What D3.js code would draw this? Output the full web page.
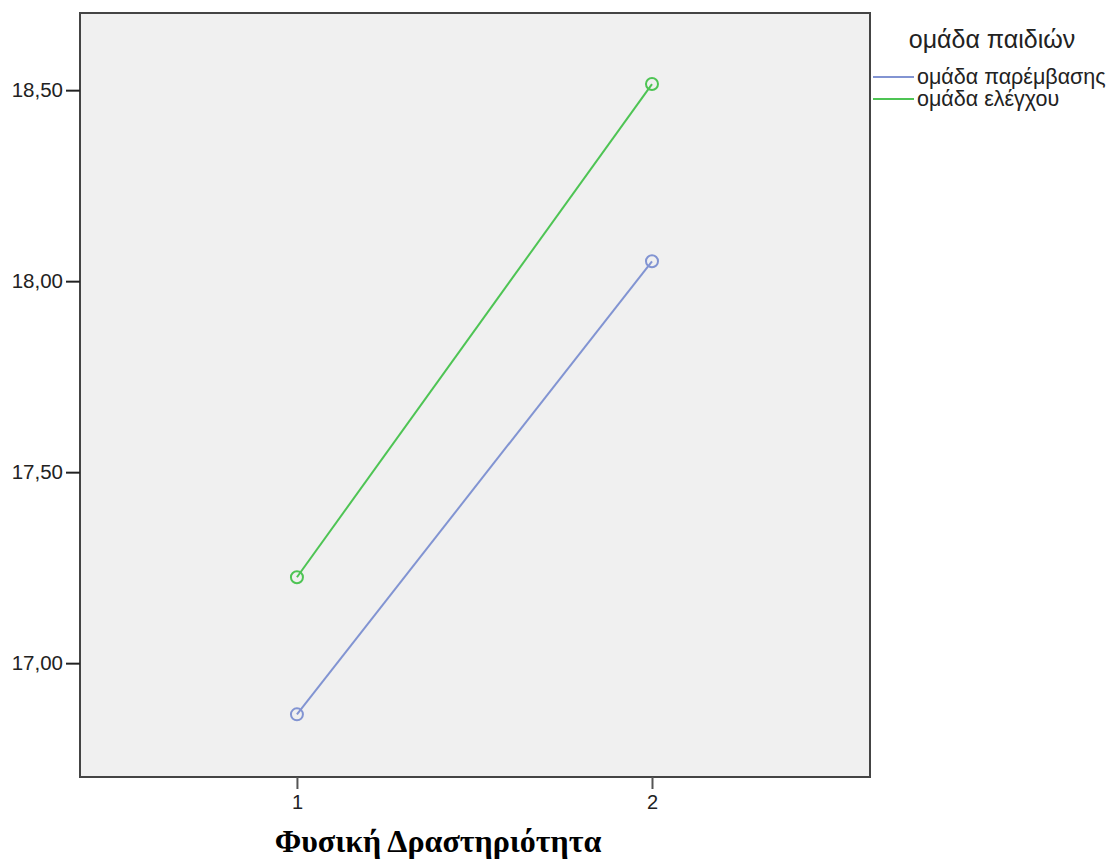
<!DOCTYPE html>
<html>
<head>
<meta charset="utf-8">
<script src="https://cdn.jsdelivr.net/npm/d3@7"></script>
<style>
  body { margin: 0; background: #fff; }
  text { font-family: "Liberation Sans", Arial, sans-serif; }
</style>
</head>
<body>
<div class="js-chart"></div>
<script>
'use strict';

// chart data
var times = [1, 2];
var groups = ['ομάδα παρέμβασης', 'ομάδα ελέγχου'];
var colors = ['#8294d2', '#4ec454'];
var interventionMeans = [16.866, 18.052];
var controlMeans = [17.225, 18.516];
var yTicks = [17.0, 17.5, 18.0, 18.5];
var legendTitle = 'ομάδα παιδιών';
var xTitle = 'Φυσική Δραστηριότητα';

var W = 1113, H = 862;
var box = { l: 80, t: 13, r: 870, b: 777 };

var svg = d3.select('.js-chart').append('svg')
    .attr('width', W)
    .attr('height', H);

var x = d3.scaleLinear().domain([0.389, 2.614]).range([box.l, box.r]);
var y = d3.scaleLinear().domain([16.702, 18.702]).range([box.b, box.t]);

//plot background
svg.append('rect')
    .attr('x', box.l).attr('y', box.t)
    .attr('width', box.r - box.l).attr('height', box.b - box.t)
    .style('fill', '#f0f0f0')
    .style('stroke', '#444')
    .style('stroke-width', 2);

//y axis
var yAxis = svg.append('g')
    .attr('transform', 'translate(' + box.l + ',0)')
    .call(d3.axisLeft(y).tickValues(yTicks).tickSize(14).tickPadding(3)
        .tickFormat(function (d) { return d3.format('.2f')(d).replace('.', ','); }));
yAxis.select('.domain').remove();
yAxis.selectAll('line').style('stroke', '#222').style('stroke-width', 2);
yAxis.selectAll('text').style('font-size', '20.5px').style('fill', '#222')
    .style('font-family', '"Liberation Sans", Arial, sans-serif');

//x axis
var xAxis = svg.append('g')
    .attr('transform', 'translate(0,' + box.b + ')')
    .call(d3.axisBottom(x).tickValues(times).tickSize(12).tickPadding(6)
        .tickFormat(d3.format('d')));
xAxis.select('.domain').remove();
xAxis.selectAll('line').style('stroke', '#555').style('stroke-width', 2);
xAxis.selectAll('text').style('font-size', '20px').style('fill', '#222')
    .style('font-family', '"Liberation Sans", Arial, sans-serif');

svg.append('text')
    .attr('x', 438).attr('y', 852)
    .attr('text-anchor', 'middle')
    .style('font-family', '"Liberation Serif", "Times New Roman", serif')
    .style('font-weight', 'bold')
    .style('font-size', '32px')
    .text(xTitle);

//series lines and markers
var series = [interventionMeans, controlMeans];
var line = d3.line()
    .x(function (d, i) { return x(times[i]); })
    .y(function (d) { return y(d); });

series.forEach(function (vals, s) {
    svg.append('path')
        .datum(vals)
        .attr('d', line)
        .style('fill', 'none')
        .style('stroke', colors[s])
        .style('stroke-width', 2);
    svg.selectAll('.js-pt-' + s)
        .data(vals)
        .enter()
        .append('circle')
        .attr('class', 'js-pt-' + s)
        .attr('cx', function (d, i) { return x(times[i]); })
        .attr('cy', function (d) { return y(d); })
        .attr('r', 6)
        .style('fill', 'none')
        .style('stroke', colors[s])
        .style('stroke-width', 2);
});

//legend
svg.append('text')
    .attr('x', 992).attr('y', 48)
    .attr('text-anchor', 'middle')
    .style('font-size', '25px')
    .style('fill', '#222')
    .text(legendTitle);

var leg = svg.selectAll('.js-leg').data(groups).enter().append('g')
    .attr('class', 'js-leg')
    .attr('transform', function (d, i) { return 'translate(873,' + (77 + i * 22) + ')'; });
leg.append('line')
    .attr('x1', 0).attr('x2', 41)
    .style('stroke', function (d, i) { return colors[i]; })
    .style('stroke-width', 2);
leg.append('text')
    .attr('x', 44).attr('y', 7)
    .style('font-size', '21.5px')
    .style('fill', '#222')
    .text(function (d) { return d; });
</script>
</body>
</html>
